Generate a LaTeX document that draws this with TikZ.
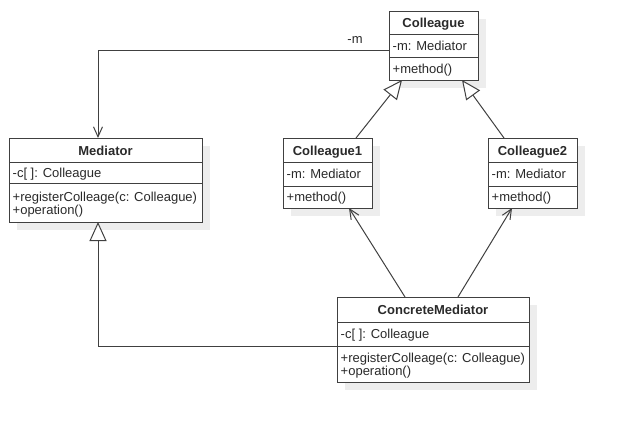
\documentclass[tikz,border=0pt]{standalone}
\usepackage{fontspec}
\setmainfont{Liberation Sans}
\usetikzlibrary{arrows.meta,calc}
\definecolor{ln}{HTML}{404040}
\definecolor{tx}{HTML}{2A2A2A}
\definecolor{sh}{HTML}{EDEDED}
\newcommand{\umlframe}[7]{%
  \fill[sh] (#2+7.5,#3+7.5) rectangle (#4+7.5,#5+7.5);
  \node[box, minimum width=#4-#2, minimum height=#5-#3] (#1) at (#2,#3) {};
  \draw[ln, line width=1pt] (#2,#6) -- (#4,#6) (#2,#7) -- (#4,#7);
}
\begin{document}
\begin{tikzpicture}[x=1pt,y=-1pt,
  box/.style={draw=ln, line width=1pt, fill=white, inner sep=0pt, outer sep=0pt, anchor=north west},
  hd/.style={font=\fontsize{13}{14}\selectfont\bfseries, text=tx, anchor=base, inner sep=0pt},
  it/.style={font=\fontsize{13}{14}\selectfont, text=tx, anchor=base west, inner sep=0pt},
  conn/.style={draw=ln, line width=1pt},
  gen/.style={conn, -{Triangle[open, length=19pt, width=17pt, fill=white]}},
  assoc/.style={conn, -{Straight Barb[length=10pt, width=9pt]}}
]
\useasboundingbox (0,0) rectangle (617,423);

% Colleague
\umlframe{col}{389}{11}{478}{80}{34}{57}
\node[hd] (colh) at (433.5,27.5) {Colleague};
\node[it] (cola) at (392.5,50) {-m: Mediator};
\node[it] (colm) at (392.5,73) {+method()};

% Mediator
\umlframe{med}{9}{138}{202}{222}{162}{183}
\node[hd] (medh) at (105.5,155) {Mediator};
\node[it] (meda) at (12.5,177) {-c[ ]: Colleague};
\node[it] (medm1) at (12.5,201) {+registerColleage(c: Colleague)};
\node[it] (medm2) at (12.5,214) {+operation()};

% Colleague1
\umlframe{ca}{283}{138}{372}{208}{162.5}{186}
\node[hd] (cah) at (327.5,155) {Colleague1};
\node[it] (caa) at (286.5,178.5) {-m: Mediator};
\node[it] (cam) at (286.5,201) {+method()};

% Colleague2
\umlframe{cb}{488}{138}{577}{208}{162.5}{186}
\node[hd] (cbh) at (532.5,155) {Colleague2};
\node[it] (cba) at (491.5,178.5) {-m: Mediator};
\node[it] (cbm) at (491.5,201) {+method()};

% ConcreteMediator
\umlframe{cm}{337}{297}{529}{382}{322}{346}
\node[hd] (cmh) at (433,314.5) {ConcreteMediator};
\node[it] (cma) at (340.5,338.5) {-c[ ]: Colleague};
\node[it] (cmm1) at (340.5,362.5) {+registerColleage(c: Colleague)};
\node[it] (cmm2) at (340.5,375.5) {+operation()};

% connectors
\draw[assoc] ($(col.north west)+(0,39)$) -| ($(med.north)+(-7.5,0)$);
\node[font=\fontsize{13}{14}\selectfont, text=tx, anchor=base, inner sep=0pt] (mlabel) at (355,43.5) {-m};

\draw[gen] ($(ca.north west)+(73,0)$) -- ($(col.south west)+(13,0)$);
\draw[gen] ($(cb.north west)+(16,0)$) -- ($(col.south west)+(73,0)$);

\draw[assoc] ($(cm.north west)+(68,0)$) -- ($(ca.south west)+(66,0)$);
\draw[assoc] ($(cm.north west)+(121,0)$) -- ($(cb.south west)+(24,0)$);

\draw[gen] ($(cm.north west)+(0,49)$) -| ($(med.south)+(-7.5,0)$);
\end{tikzpicture}
\end{document}
